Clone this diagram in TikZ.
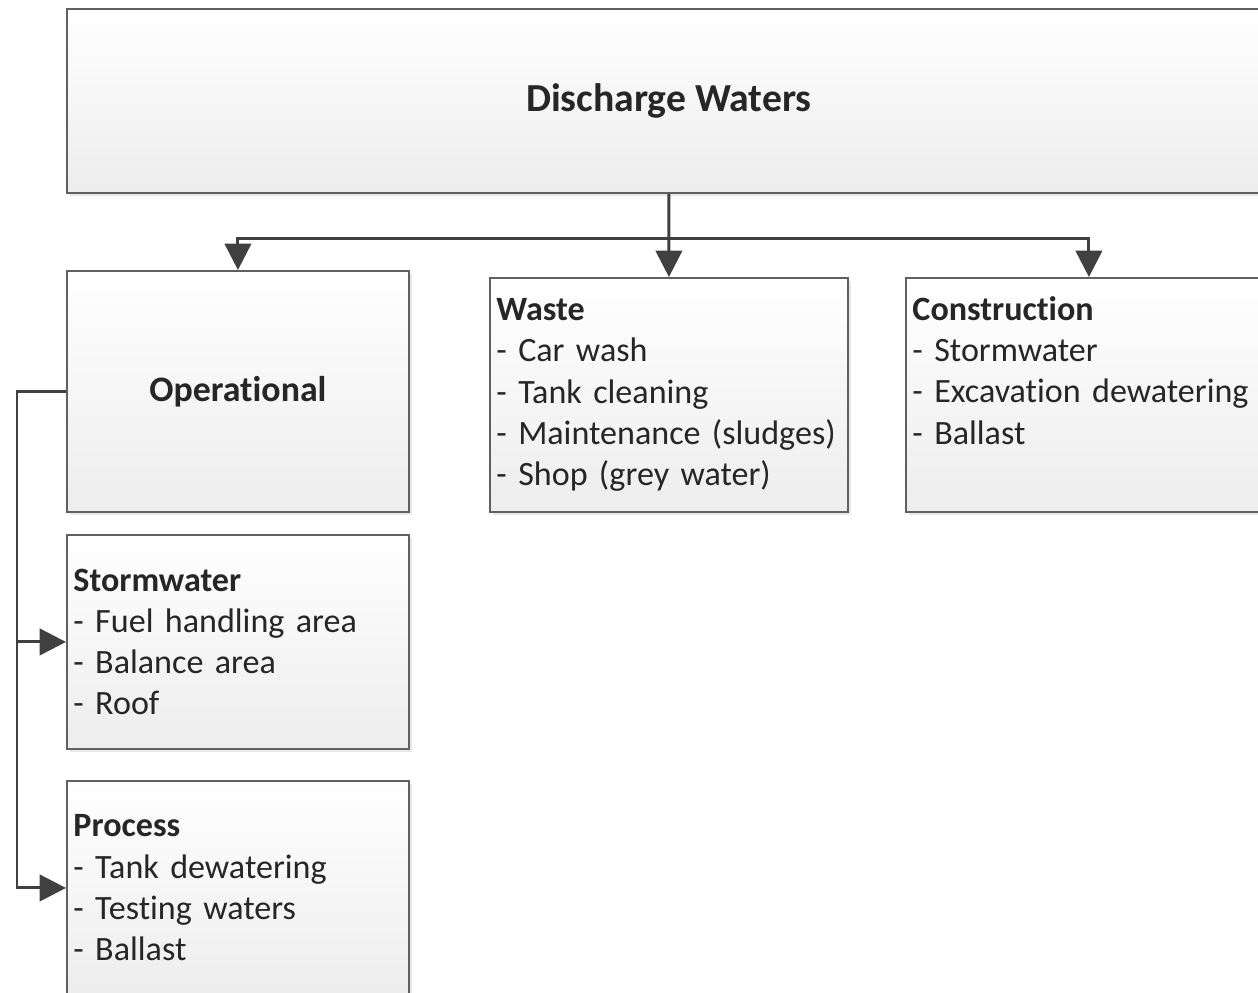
\documentclass[tikz,border=0pt]{standalone}
\usepackage{fontspec}
\setmainfont[Ligatures=NoCommon]{Carlito}
\usetikzlibrary{arrows.meta,shadows}
\definecolor{ink}{HTML}{262626}
\definecolor{edge}{HTML}{606060}
\definecolor{wireC}{HTML}{404040}
\definecolor{boxBot}{HTML}{EDEDED}

\begin{document}
\begin{tikzpicture}[x=0.02cm, y=-0.02cm,
    box/.style={draw=edge, line width=1.1pt, top color=white, bottom color=boxBot,
      drop shadow={shadow xshift=2pt, shadow yshift=-2pt, opacity=0.18},
      anchor=north west, align=left, inner xsep=0.13cm, inner ysep=0pt,
      text=ink, font=\fontsize{19.4}{23.5}\selectfont},
    wire/.style={draw=wireC, line width=1.7pt},
    arr/.style={wire, -{Triangle[length=15pt, width=15pt]}}]
    % page
    \useasboundingbox (0,0) rectangle (1258,992);
    \clip (0,0) rectangle (1258,992);

    % boxes
    \node[box, minimum width=24.08cm, minimum height=3.68cm, font=\fontsize{22.6}{27}\selectfont] (top) at (66,8) {\textbf{Discharge Waters}};
    \node[box, minimum width=6.84cm, minimum height=4.82cm, font=\fontsize{20.4}{24}\selectfont] (oper) at (66,270) {\textbf{Operational}};
    \node[box, text width=6.9cm, minimum height=4.68cm] (waste) at (489,277)
      {\textbf{Waste}\\- Car wash\\- Tank cleaning\\- Maintenance (sludges)\\- Shop (grey water)};
    \node[box, text width=7.06cm, minimum height=4.68cm] (constr) at (905,277)
      {\textbf{Construction}\\- Stormwater\\- Excavation dewatering\\- Ballast\\ \rule[-4.7pt]{0pt}{4.7pt}};
    \node[box, text width=6.58cm, minimum height=4.28cm] (storm) at (66,534)
      {\textbf{Stormwater}\\- Fuel handling area\\- Balance area\\- Roof};
    \node[box, text width=6.58cm, minimum height=4.28cm] (proc) at (66,780)
      {\textbf{Process}\\- Tank dewatering\\- Testing waters\\- Ballast};

    % fan out
    \coordinate (split) at (668,238);
    \draw[arr] (top.south) -- (waste.north);
    \draw[arr] (split) -| (oper.north);
    \draw[arr] (split) -| (constr.north);

    % left bus
    \coordinate (busline) at (17,0);
    \draw[arr] (oper.west) -- (oper.west -| busline) |- (storm.west);
    \draw[arr] (oper.west) -- (oper.west -| busline) |- (proc.west);
\end{tikzpicture}
\end{document}
